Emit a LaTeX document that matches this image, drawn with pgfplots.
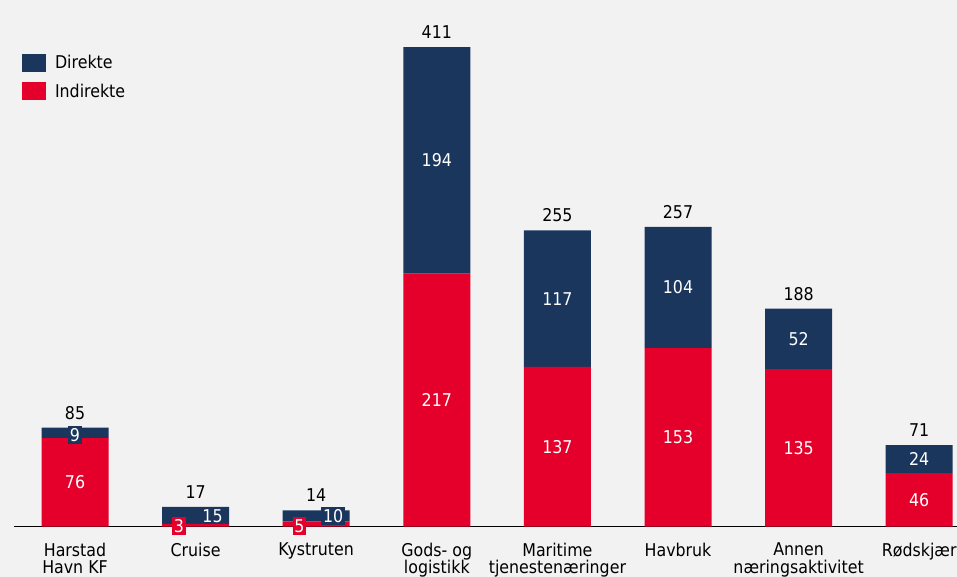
\documentclass[border=0pt]{standalone}
\usepackage{pgfplots}
\pgfplotsset{compat=1.18}
\usepackage{pgfplotstable}
\usepackage{fontspec}
\setmainfont{DejaVu Sans Condensed}
\definecolor{navy}{RGB}{27,54,93}
\definecolor{hred}{RGB}{228,0,43}
\definecolor{bg}{RGB}{242,242,242}
\newcommand{\cf}{\fontsize{17.6}{17.5}\selectfont}

\pgfplotstableread{
x ind dir
0 76 9
1 2.5 14.5
2 4.5 9.5
3 217 194
4 137 117
5 153 104
6 135 52
7 46 24
}\bars

\pgfplotstableread{
x y lab
0 38 76
3 108.5 217
3 314 194
4 68.5 137
4 195.5 117
5 76.5 153
5 205 104
6 67.5 135
6 161 52
7 23 46
7 58 24
1.14 8.6 15
}\midlabels

\pgfplotstableread{
x y lab
0 85 85
1 17 17
2 14 14
3 411 411
4 254 255
5 257 257
6 187 188
7 70 71
}\totals

\pgfplotstableread{
x y lab
0 78.5 9
2.14 9.2 10
}\navyboxes

\pgfplotstableread{
x y lab
0.862 0.6 3
1.86 0.6 5
}\redboxes

\pgfplotsset{base/.style={scale only axis, width=965.5pt, height=513.3pt,
  xmin=-0.506, xmax=7.5, ymin=0, ymax=440, at={(14pt,50.3pt)}, anchor=south west, clip=false}}

\begin{document}
\begin{tikzpicture}
\useasboundingbox (0,0) rectangle (957pt,577pt);
\clip (0,0) rectangle (957pt,577pt);
\fill[bg] (0,0) rectangle (957pt,577pt);
\begin{axis}[base, ybar stacked, bar width=67pt,
  axis x line=bottom, axis y line=none,
  x axis line style={-, black, line width=1pt},
  xtick={0,...,7},
  xticklabels={{Harstad\\Havn KF},Cruise,Kystruten,{Gods- og\\logistikk},{Maritime\\tjenestenæringer},Havbruk,{Annen\\næringsaktivitet},Rødskjær},
  major tick length=0pt,
  xticklabel style={align=center, font=\cf, inner sep=0pt, anchor=north, yshift=-16pt},
  reverse legend,
  legend style={at={(rel axis cs:0.0083,0.921)}, anchor=north west, draw=none, fill=none,
    inner sep=0pt, outer sep=0pt, row sep=10.5pt, column sep=9pt, font=\cf,
    nodes={inner sep=0pt}},
  legend cell align=left,
  legend image code/.code={\fill[#1] (0pt,-9pt) rectangle (24pt,9pt);},
]
\addplot[fill=hred, draw=none] table[x=x, y=ind] {\bars};
\addplot[fill=navy, draw=none] table[x=x, y=dir] {\bars};
\legend{Indirekte, Direkte}
\end{axis}
\begin{axis}[base, axis lines=none]
\addplot[only marks, mark=none, nodes near coords, point meta=explicit symbolic,
  every node near coord/.append style={anchor=center, font=\cf, text=white, inner sep=0pt}]
  table[x=x, y=y, meta=lab] {\midlabels};
\addplot[only marks, mark=none, nodes near coords, point meta=explicit symbolic,
  every node near coord/.append style={anchor=base, font=\cf, text=black, inner sep=0pt, yshift=8.5pt}]
  table[x=x, y=y, meta=lab] {\totals};
\addplot[only marks, mark=none, nodes near coords, point meta=explicit symbolic,
  every node near coord/.append style={anchor=center, font=\cf, text=white, fill=navy, inner xsep=1.8pt, inner ysep=2.5pt}]
  table[x=x, y=y, meta=lab] {\navyboxes};
\addplot[only marks, mark=none, nodes near coords, point meta=explicit symbolic,
  every node near coord/.append style={anchor=center, font=\cf, text=white, fill=hred, inner xsep=1.8pt, inner ysep=2.5pt}]
  table[x=x, y=y, meta=lab] {\redboxes};
\end{axis}
\end{tikzpicture}
\end{document}
